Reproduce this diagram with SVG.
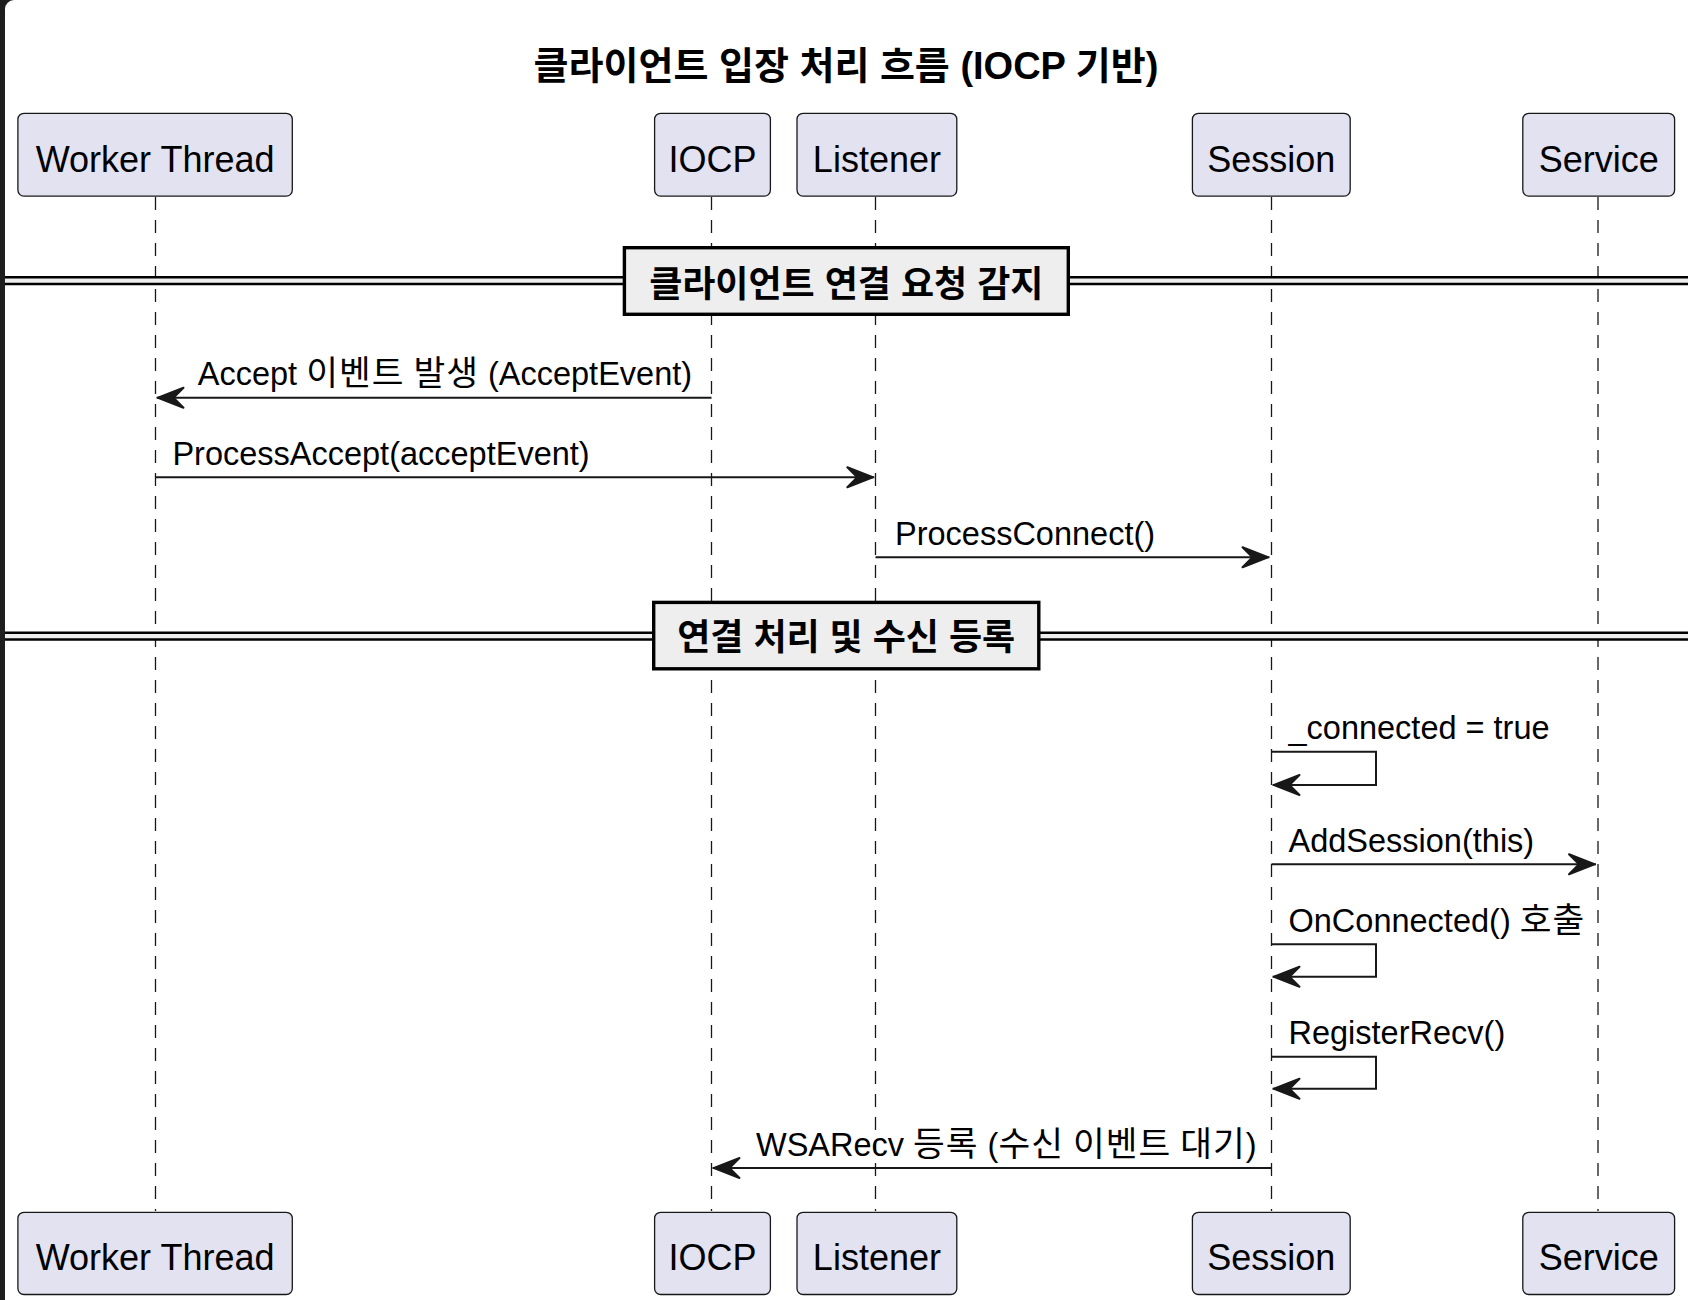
<svg xmlns="http://www.w3.org/2000/svg" width="1700" height="1300" viewBox="0 0 1700 1300">
<style>
  .bg { fill: #ffffff; }
  .frame { fill: #1e1e1e; }
  .pbox { fill: #E2E2F0; stroke: #181818; stroke-width: 1.3; }
  .ptext { font-family: "Liberation Sans", "Noto Sans CJK KR", sans-serif; font-size: 36px; fill: #000; text-anchor: middle; }
  .title { font-family: "Liberation Sans", "Noto Sans CJK KR", sans-serif; font-size: 38px; font-weight: bold; fill: #000; text-anchor: middle; }
  .life { stroke: #181818; stroke-width: 1.3; stroke-dasharray: 13 10; fill: none; }
  .msg { stroke: #181818; stroke-width: 2; fill: none; }
  .mtext { font-family: "Liberation Sans", "Noto Sans CJK KR", sans-serif; font-size: 32.5px; fill: #000; }
  .ko { font-size: 34.5px; letter-spacing: 1px; }
  .divfill { fill: #EEEEEE; }
  .divline { stroke: #000; stroke-width: 2.6; }
  .divbox { fill: #EEEEEE; stroke: #000; stroke-width: 3.4; }
  .divtext { font-family: "Liberation Sans", "Noto Sans CJK KR", sans-serif; font-size: 36px; font-weight: bold; fill: #000; text-anchor: middle; }
</style>
<defs>
  <marker id="arrow" markerUnits="userSpaceOnUse" markerWidth="36" markerHeight="32" viewBox="-32 -16 36 32" refX="0" refY="0" orient="auto">
    <path d="M-1.5,0 L-27,-10 L-17,0 L-27,10 Z" fill="#181818" stroke="#181818" stroke-width="2" stroke-linejoin="round"/>
  </marker>
</defs>
<rect class="bg" x="0" y="0" width="1700" height="1300"/>
<path class="frame" d="M0 0 H14 A9 9 0 0 0 5 9 V1300 H0 Z"/>

<text class="title" x="846" y="79">클라이언트 입장 처리 흐름 (IOCP 기반)</text>

<g id="lifelines">
  <line class="life" x1="155.5" y1="197" x2="155.5" y2="1211"/>
  <line class="life" x1="711.5" y1="197" x2="711.5" y2="1211"/>
  <line class="life" x1="875.5" y1="197" x2="875.5" y2="1211"/>
  <line class="life" x1="1271.5" y1="197" x2="1271.5" y2="1211"/>
  <line class="life" x1="1598" y1="197" x2="1598" y2="1211"/>
</g>

<g id="worker-thread">
  <rect class="pbox" x="17.9" y="113.3" width="274.4" height="82.8" rx="6"/>
  <text class="ptext" x="155.1" y="171.7">Worker Thread</text>
  <rect class="pbox" x="17.9" y="1212.3" width="274.4" height="82.2" rx="6"/>
  <text class="ptext" x="155.1" y="1269.5">Worker Thread</text>
</g>
<g id="iocp">
  <rect class="pbox" x="654.6" y="113.3" width="115.8" height="82.8" rx="6"/>
  <text class="ptext" x="712.5" y="171.7">IOCP</text>
  <rect class="pbox" x="654.6" y="1212.3" width="115.8" height="82.2" rx="6"/>
  <text class="ptext" x="712.5" y="1269.5">IOCP</text>
</g>
<g id="listener">
  <rect class="pbox" x="797" y="113.3" width="159.8" height="82.8" rx="6"/>
  <text class="ptext" x="876.9" y="171.7">Listener</text>
  <rect class="pbox" x="797" y="1212.3" width="159.8" height="82.2" rx="6"/>
  <text class="ptext" x="876.9" y="1269.5">Listener</text>
</g>
<g id="session">
  <rect class="pbox" x="1192.4" y="113.3" width="157.8" height="82.8" rx="6"/>
  <text class="ptext" x="1271.3" y="171.7">Session</text>
  <rect class="pbox" x="1192.4" y="1212.3" width="157.8" height="82.2" rx="6"/>
  <text class="ptext" x="1271.3" y="1269.5">Session</text>
</g>
<g id="service">
  <rect class="pbox" x="1522.8" y="113.3" width="151.8" height="82.8" rx="6"/>
  <text class="ptext" x="1598.7" y="171.7">Service</text>
  <rect class="pbox" x="1522.8" y="1212.3" width="151.8" height="82.2" rx="6"/>
  <text class="ptext" x="1598.7" y="1269.5">Service</text>
</g>

<g id="divider-1">
  <rect class="divfill" x="5" y="277.3" width="1683" height="6.7"/>
  <line class="divline" x1="5" y1="277.3" x2="1688" y2="277.3"/>
  <line class="divline" x1="5" y1="284" x2="1688" y2="284"/>
  <rect class="divbox" x="624.4" y="247.7" width="443.9" height="66.6"/>
  <text class="divtext" x="846.3" y="296.5">클라이언트 연결 요청 감지</text>
</g>
<g id="divider-2">
  <rect class="divfill" x="5" y="632.8" width="1683" height="6.7"/>
  <line class="divline" x1="5" y1="632.8" x2="1688" y2="632.8"/>
  <line class="divline" x1="5" y1="639.5" x2="1688" y2="639.5"/>
  <rect class="divbox" x="653.7" y="602.4" width="385.1" height="66.4"/>
  <text class="divtext" x="846.2" y="650">연결 처리 및 수신 등록</text>
</g>

<g id="connectors">
  <line class="msg" x1="711.5" y1="397.7" x2="156.5" y2="397.7" marker-end="url(#arrow)"/>
  <text class="mtext" x="197.8" y="385.2">Accept <tspan class="ko">이벤트</tspan> <tspan class="ko">발생</tspan> (AcceptEvent)</text>

  <line class="msg" x1="155.5" y1="477.3" x2="874.3" y2="477.3" marker-end="url(#arrow)"/>
  <text class="mtext" x="172.4" y="464.8">ProcessAccept(acceptEvent)</text>

  <line class="msg" x1="875.5" y1="557.3" x2="1269.5" y2="557.3" marker-end="url(#arrow)"/>
  <text class="mtext" x="895" y="544.8">ProcessConnect()</text>

  <path class="msg" d="M1271.5,751.7 H1376 V785 H1272.5" marker-end="url(#arrow)"/>
  <text class="mtext" x="1288.5" y="739.2">_connected = true</text>

  <line class="msg" x1="1271.5" y1="864.3" x2="1596" y2="864.3" marker-end="url(#arrow)"/>
  <text class="mtext" x="1288.5" y="851.8">AddSession(this)</text>

  <path class="msg" d="M1271.5,944.3 H1376 V976.7 H1272.5" marker-end="url(#arrow)"/>
  <text class="mtext" x="1288.5" y="931.8">OnConnected() <tspan class="ko">호출</tspan></text>

  <path class="msg" d="M1271.5,1056.7 H1376 V1088.7 H1272.5" marker-end="url(#arrow)"/>
  <text class="mtext" x="1288.5" y="1044.2">RegisterRecv()</text>

  <line class="msg" x1="1271.5" y1="1168" x2="712.5" y2="1168" marker-end="url(#arrow)"/>
  <text class="mtext" x="756" y="1155.5">WSARecv <tspan class="ko">등록</tspan> (<tspan class="ko">수신</tspan> <tspan class="ko">이벤트</tspan> <tspan class="ko">대기</tspan>)</text>
</g>
</svg>
